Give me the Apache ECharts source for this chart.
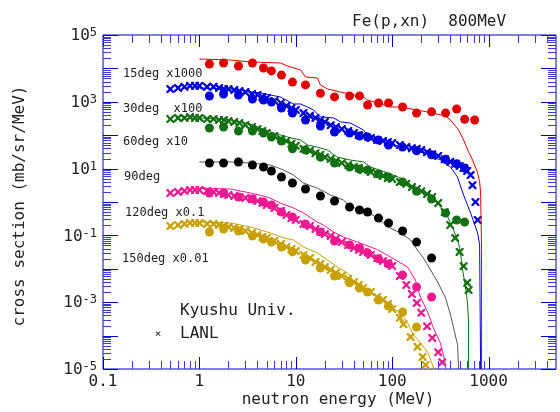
<!DOCTYPE html>
<html><head><meta charset="utf-8">
<script src="https://cdn.jsdelivr.net/npm/echarts@6/dist/echarts.min.js"></script>
<style>html,body{margin:0;padding:0;background:#fff}#c{width:560px;height:412px}</style>
</head><body><div id="c"></div>
<script>
// ---- Kyushu Univ. data (filled circles), plotted values incl. scale factors ----
const kyushuE = [1.27,1.78,2.54,3.55,4.62,5.59,7.1,9.23,12.6,18,25.2,36.1,45.8,55.5,72.1,91.6,128,179,256,358,466,564,716];
const ky15 = [13500,14500,11800,14500,10300,8400,6300,3900,3200,1800,1400,1500,1500,800,920,920,700,460,500,460,610,300,285];
const ky30 = [1490,1710,1600,1210,1130,990,650,460,285,188,125,116,95,88,72,51,44,34,26,19,14,10.4];
const ky60 = [164,176,134,134,116,88,67,39,36,22,14.7,11.2,9.7,9.1,6.9,5.6,4.0,2.1,1.23,0.47,0.29,0.25];
const ky90 = [14.7,14.7,15.8,12.8,11.2,8.5,5.6,3.7,2.45,1.51,1.07,0.71,0.575,0.5,0.33,0.235,0.135,0.063,0.021];
const ky120 = [1.86,1.86,1.41,1.23,1.0,0.81,0.5,0.355,0.22,0.126,0.068,0.052,0.042,0.03,0.02,0.0139,0.0065,0.00285,0.00143];
const ky150 = [0.126,0.155,0.135,0.096,0.078,0.063,0.045,0.032,0.0184,0.0106,0.0061,0.0038,0.00266,0.00202,0.00116,0.00077,0.00051,0.00018];

// ---- LANL data (crosses) ----
const lanlE = [0.5,0.6,0.7,0.8,0.9,1,1.2,1.4,1.6,1.8,2,2.3,2.6,3,3.5,4,4.5,5,6,7,8,9,10,12,14,16,18,20,23,26,30,35,40,45,50,60,70,80,90,100,120,140,160,180,200,230,260,300,350,400,450,500,550,600];
const lanl30 = [2400,2600,2800,3000,3000,3000,2800,2800,2600,2400,2400,2250,2100,1950,1700,1600,1400,1300,1060,920,750,650,570,460,380,330,285,250,200,176,153,134,116,101,95,82,72,67,63,58,51,44,41,39,36,31,27,24,19,16,14,12,10.4,8.5];
const lanl30Tail = [[650,6.4],[680,3.2],[730,1.0],[770,0.29]];
const lanl60 = [305,330,330,350,330,330,305,305,285,285,266,248,232,202,176,153,134,116,95,77,67,55,48,39,34,29,26,22,19.4,16.9,14.7,12.8,11.2,10.4,9.1,7.9,6.9,6.0,5.2,4.9,4.0,3.5,2.8,2.45,2.1,1.73,1.41,0.93,0.5,0.205,0.084,0.032,0.012,0.0038];
const lanl60Tail = [[620,0.0023]];
const lanl120 = [1.86,2.0,2.14,2.29,2.29,2.29,2.14,2.0,1.86,1.74,1.62,1.51,1.41,1.32,1.23,1.07,0.93,0.81,0.66,0.54,0.41,0.33,0.29,0.22,0.19,0.155,0.126,0.11,0.096,0.078,0.063,0.052,0.042,0.037,0.032,0.026,0.021,0.017,0.0149,0.0121,0.0061,0.0033,0.00176,0.00095,0.00048,0.00019,0.000085,0.000032];
const lanl120Tail = [[330,0.000016]];
const lanl150 = [0.19,0.205,0.22,0.235,0.235,0.235,0.22,0.22,0.205,0.19,0.179,0.167,0.155,0.135,0.118,0.103,0.09,0.084,0.068,0.055,0.045,0.039,0.034,0.026,0.021,0.016,0.0139,0.0113,0.0092,0.0075,0.0061,0.005,0.004,0.0033,0.00266,0.00202,0.00143,0.00116,0.00088,0.00063,0.00034];
const lanl150Tail = [[131,0.00022],[155,0.000091],[183,0.000046],[207,0.000023],[222,0.0000132]];

// ---- calculation curves (solid lines) ----
const calc15 = [[1,19100],[2.1,17800],[3.38,15600],[6.93,14500],[8.2,11800],[11.2,8960],[12.6,5530],[16.8,5160],[18,3190],[21.3,2420],[29.1,1960],[37,1710],[50.4,1390],[55.5,1130],[96.1,698],[122,698],[233,495],[358,376],[403,285],[488,143],[550,72],[606,36],[682,18],[769,7.4],[807,4.0],[826,1.86],[845,0.037],[845,1e-5]];
const calc30 = [[1,2600],[2.1,2400],[4.3,1830],[6.93,1390],[9.45,860],[11.2,860],[13.2,700],[15.3,570],[18,350],[24.6,330],[29.1,250],[37,230],[50.4,143],[55.5,95],[75.3,67],[113,48],[167,36],[233,27],[316,18],[403,11],[475,5.6],[550,1.6],[650,0.47],[769,0.118],[807,0.052],[826,1e-5]];
const calc60 = [[1,330],[2.1,285],[3.38,216],[5.46,125],[8.2,88],[11.2,72],[13.2,51],[16.7,44],[21.3,36],[27,22],[37,18],[50.4,15.8],[59.3,11.2],[85.1,7.9],[122,5.2],[167,2.8],[233,1.62],[296,0.93],[376,0.36],[433,0.145],[488,0.059],[524,0.018],[537,0.0092],[576,0.0029],[604,0.00095],[618,0.00029],[618,1e-5]];
const calc90 = [[1,15.8],[2.1,15.8],[3.38,14.7],[5.46,12.8],[7.45,9.1],[9.45,6.4],[12,3.7],[16.7,2.6],[22.9,1.62],[31.1,1.15],[37,0.71],[50.4,0.575],[70.9,0.33],[90.3,0.179],[122,0.118],[155,0.073],[182,0.037],[211,0.021],[250,0.0092],[296,0.004],[358,0.00134],[403,0.00041],[433,0.00017],[477,0.000052],[488,1e-5]];
const calc120 = [[1,2.6],[2.1,2.45],[3.38,1.86],[5.08,1.41],[6.93,0.93],[9.45,0.66],[12,0.47],[16.7,0.25],[19.3,0.205],[24.6,0.126],[31.1,0.09],[46.6,0.059],[70.9,0.037],[96.1,0.0225],[144,0.0113],[174,0.0046],[196,0.00143],[233,0.00051],[267,0.00017],[316,0.00006],[350,0.0000186],[358,1e-5]];
const calc150 = [[1,0.25],[2.1,0.235],[3.38,0.179],[5.46,0.118],[7.45,0.084],[9.45,0.073],[12,0.045],[16.7,0.03],[21.3,0.0184],[27,0.0113],[34.4,0.0075],[46.6,0.0024],[70.9,0.0015],[96.1,0.00072],[122,0.00048],[144,0.00024],[167,0.000104],[196,0.00006],[233,0.000032],[262,0.0000132],[269,1e-5]];

// ---- tick labels / texts ----
const xTickLabels = ['0.1','1','10','100','1000'];
const xTickLabelVals = [0.1,1,10,100,1000];
const yTickExps = [5,3,1,-1,-3,-5];
const seriesLabels = ['15deg x1000','30deg  x100','60deg x10','90deg','120deg x0.1','150deg x0.01'];

const MONO = "'DejaVu Sans Mono', monospace";
const AX = '#0000cc';
const C = {r:'#e00000', b:'#0000dd', g:'#137013', k:'#000000', gray:'#555555', p:'#f01890', y:'#c8a000'};
const XPATH = 'path://M0,0L2,0L5,3L8,0L10,0L10,2L7,5L10,8L10,10L8,10L5,7L2,10L0,10L0,8L3,5L0,2Z';

function pairs(E, V){ const out=[]; for(let i=0;i<V.length;i++) out.push([E[i],V[i]]); return out; }

// ticks (axis decoration)
const xTicks=[]; for(let e=-1;e<=3;e++) for(let m=1;m<=9;m++){ const v=m*Math.pow(10,e); if(v<4999) xTicks.push([v,1,m===1?1:0]); }
const yTicks=[]; for(let e=-5;e<5;e++) for(let m=1;m<=9;m++) yTicks.push([1,m*Math.pow(10,e),m===1?1:0]); yTicks.push([1,1e5,1]);

const chart = echarts.init(document.getElementById('c'), null, {renderer:'canvas'});

function crosses(name, data, color){
  return {type:'scatter', name, data, symbol:XPATH, symbolSize:8, symbolKeepAspect:true,
    itemStyle:{color, opacity:1}, z:2, silent:true};
}
function circles(name, data, color){
  return {type:'scatter', name, data, symbol:'circle', symbolSize:9, itemStyle:{color, opacity:1}, z:4, silent:true};
}
function line(name, data, color){
  return {type:'line', name, data, showSymbol:false, symbol:'none', lineStyle:{color, width:1}, z:3, silent:true};
}

const series = [
  crosses('L30', pairs(lanlE,lanl30).concat(lanl30Tail), C.b),
  crosses('L60', pairs(lanlE,lanl60).concat(lanl60Tail), C.g),
  crosses('L120', pairs(lanlE,lanl120).concat(lanl120Tail), C.p),
  crosses('L150', pairs(lanlE,lanl150).concat(lanl150Tail), C.y),
  line('c15', calc15, C.r),
  line('c30', calc30, C.b),
  line('c60', calc60, C.g),
  line('c90', calc90, C.gray),
  line('c120', calc120, C.p),
  line('c150', calc150, C.y),
  circles('k15', pairs(kyushuE,ky15), C.r),
  circles('k30', pairs(kyushuE,ky30), C.b),
  circles('k60', pairs(kyushuE,ky60), C.g),
  circles('k90', pairs(kyushuE,ky90), C.k),
  circles('k120', pairs(kyushuE,ky120), C.p),
  circles('k150', pairs(kyushuE,ky150), C.y),
  { // x ticks top & bottom
    type:'custom', coordinateSystem:'cartesian2d', silent:true, z:10, data:xTicks, encode:{x:0,y:1},
    renderItem(params, api){
      const cs=params.coordSys; const px=Math.round(api.coord([api.value(0),1])[0])+0.5;
      const len=api.value(2)?12:8; const col=api.value(2)?AX:'#3a3ae0';
      const b=cs.y+cs.height;
      return {type:'group', children:[
        {type:'line', shape:{x1:px,y1:b,x2:px,y2:b-len}, style:{stroke:col,lineWidth:1}},
        {type:'line', shape:{x1:px,y1:cs.y,x2:px,y2:cs.y+len}, style:{stroke:col,lineWidth:1}}
      ]};
    }
  },
  { // y ticks left & right
    type:'custom', coordinateSystem:'cartesian2d', silent:true, z:10, data:yTicks, encode:{x:0,y:1},
    renderItem(params, api){
      const cs=params.coordSys; const py=Math.round(api.coord([1,api.value(1)])[1])+0.5;
      const len=api.value(2)?15:8; const col=api.value(2)?AX:'#3a3ae0';
      const r=cs.x+cs.width;
      return {type:'group', children:[
        {type:'line', shape:{x1:cs.x,y1:py,x2:cs.x+len,y2:py}, style:{stroke:col,lineWidth:1}},
        {type:'line', shape:{x1:r,y1:py,x2:r-len,y2:py}, style:{stroke:col,lineWidth:1}}
      ]};
    }
  },
  { // x tick labels
    type:'custom', coordinateSystem:'cartesian2d', silent:true, z:10,
    data:xTickLabelVals.map(v=>[v,1e-5]), encode:{x:0,y:1},
    renderItem(params, api){
      const p=api.coord([api.value(0),api.value(1)]);
      return {type:'text', style:{text:xTickLabels[params.dataIndex], x:p[0], y:p[1]+13,
        align:'center', verticalAlign:'middle', textAlign:'center', textVerticalAlign:'middle',
        font:'16px '+MONO, fill:'#222'}};
    }
  },
  { // y tick labels
    type:'custom', coordinateSystem:'cartesian2d', silent:true, z:10,
    data:yTickExps.map(e=>[0.1,Math.pow(10,e)]), encode:{x:0,y:1},
    renderItem(params, api){
      const p=api.coord([api.value(0),api.value(1)]);
      const ex=yTickExps[params.dataIndex];
      return {type:'text', style:{text:'{b|10}{s|'+ex+'}', x:p[0]-6, y:p[1]+1,
        align:'right', verticalAlign:'middle', textAlign:'right', textVerticalAlign:'middle',
        rich:{b:{fontSize:16,fontFamily:MONO,lineHeight:18,fill:'#222',color:'#222'},
              s:{fontSize:12,fontFamily:MONO,lineHeight:12,verticalAlign:'top',fill:'#222',color:'#222'}}}};
    }
  }
];

const txt = (text, x, y, size, align, extra) => Object.assign({type:'text', silent:true, z:20,
  style:{text, x, y, font:size+'px '+MONO, fill:'#222', align, textAlign:align, verticalAlign:'middle', textVerticalAlign:'middle'}}, extra||{});

const labelPos = [[123,74],[123,109],[123,142],[124,177],[125,213],[122,259]];

chart.setOption({
  animation:false,
  backgroundColor:'#ffffff',
  grid:{left:103, top:35, width:453, height:334, show:true, borderColor:AX, borderWidth:1, backgroundColor:'transparent', outerBoundsMode:'none', containLabel:false},
  xAxis:{type:'log', logBase:10, min:0.1, max:5000, axisLine:{show:false}, axisTick:{show:false}, axisLabel:{show:false}, splitLine:{show:false}, minorTick:{show:false}},
  yAxis:{type:'log', logBase:10, min:1e-5, max:1e5, axisLine:{show:false}, axisTick:{show:false}, axisLabel:{show:false}, splitLine:{show:false}, minorTick:{show:false}},
  series,
  graphic:[
    txt('Fe(p,xn)  800MeV', 352, 22, 16, 'left'),
    txt('neutron energy (MeV)', 338, 400, 16, 'center'),
    Object.assign(txt('cross section (mb/sr/MeV)', 0, 0, 16, 'center'), {x:20, y:206, rotation:Math.PI/2}),
    ...seriesLabels.map((s,i)=>txt(s, labelPos[i][0], labelPos[i][1], 12, 'left')),
    txt('Kyushu Univ.', 180, 311, 16, 'left'),
    txt('\u00d7', 158, 334, 11, 'center'),
    txt('LANL', 180, 334, 16, 'left')
  ]
});
</script></body></html>
